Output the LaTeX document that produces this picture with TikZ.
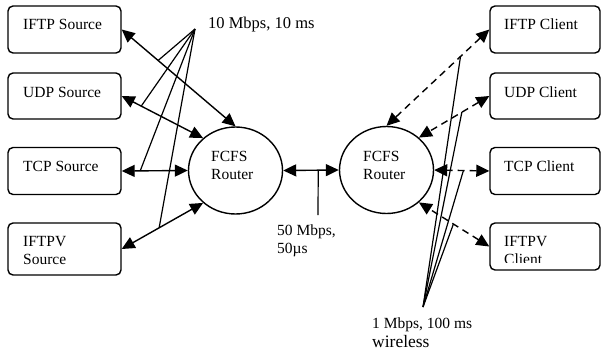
\documentclass[tikz,border=0pt]{standalone}
\usepackage{fontspec}
\setmainfont{Liberation Serif}
\usetikzlibrary{arrows.meta,shapes.geometric}
\begin{document}
\begin{tikzpicture}[x=1pt,y=-1pt,
  box/.style={draw,line width=1.4pt,rounded corners=5pt,inner sep=0pt,minimum width=113pt,minimum height=47pt},
  cbox/.style={box,minimum width=110pt},
  router/.style={draw,ellipse,line width=1.4pt,inner sep=0pt,minimum width=94pt,minimum height=87pt},
  txt/.style={anchor=base west,inner sep=0pt,font=\fontsize{15.5}{18}\selectfont},
  link/.style={line width=1.4pt,{Triangle[length=13pt,width=12pt]}-{Triangle[length=13pt,width=12pt]}},
  dlink/.style={link,dash pattern=on 7pt off 5pt},
  fan/.style={line width=1.2pt}]
\useasboundingbox (0,0) rectangle (601,356);

% source boxes
\node[box] (s1) at (64.5,29.5) {};
\node[box,minimum height=46pt] (s2) at (64.5,96) {};
\node[box] (s3) at (64.5,171) {};
\node[box,minimum height=52pt] (s4) at (64.5,249) {};
\node[txt] (ts1) at (23,29) {IFTP Source};
\node[txt] (ts2) at (23,97) {UDP Source};
\node[txt] (ts3) at (23,171) {TCP Source};
\node[txt] (ts4a) at (23,246) {IFTPV};
\node[txt] (ts4b) at (23,264) {Source};

% client boxes
\node[cbox] (c1) at (545,29.5) {};
\node[cbox,minimum height=46pt] (c2) at (545,96) {};
\node[cbox] (c3) at (545,171) {};
\node[cbox] (c4) at (545,246.5) {};
\node[txt] (tc1) at (504,29) {IFTP Client};
\node[txt] (tc2) at (504,97) {UDP Client};
\node[txt] (tc3) at (504,171) {TCP Client};
\node[txt] (tc4a) at (504,246) {IFTPV};
\begin{scope}
\clip (492,225) rectangle (598,262.5);
\node[txt] (tc4b) at (504,264) {Client};
\end{scope}

% routers
\node[router] (r1) at (235.5,170.5) {};
\node[router] (r2) at (386.5,170) {};
\node[txt] (tr1a) at (211,161) {FCFS};
\node[txt] (tr1b) at (211,179) {Router};
\node[txt] (tr2a) at (363,161) {FCFS};
\node[txt] (tr2b) at (363,179) {Router};

% left links
\draw[link] (s1.east) -- coordinate[pos=0.32] (f1) (r1.north);
\draw[link] (s2.east) -- coordinate[pos=0.24] (f2) (r1.135);
\draw[link] (s3.east) -- coordinate[pos=0.28] (f3) (r1.west);
\draw[link] (s4.east) -- coordinate[pos=0.46] (f4) (r1.225);

% right links
\draw[dlink] (c1.west) -- coordinate[pos=0.28] (g1) (r2.north);
\draw[dlink] (c2.west) -- coordinate[pos=0.39] (g2) (r2.45);
\draw[dlink] (c3.west) -- coordinate[pos=0.47] (g3) (r2.east);
\draw[dlink] (c4.west) -- coordinate[pos=0.51] (g4) (r2.315);

% router to router
\draw[link] (r1.east) -- coordinate[pos=0.63] (m) (r2.west);
\coordinate (mt) at (318,215);
\draw[fan] (m) -- (mt);
\node[txt] (l50a) at (277,235) {50 Mbps,};
\node[txt] (l50b) at (277,253) {50µs};

% left fan
\coordinate (la) at (195,29);
\foreach \p in {f1,f2,f3,f4} \draw[fan] (la) -- (\p);
\node[txt,font=\fontsize{16.5}{19}\selectfont] (l10) at (208,28) {10 Mbps, 10 ms};

% right fan
\coordinate (ra) at (423,307);
\foreach \p in {g1,g2,g3,g4} \draw[fan] (ra) -- (\p);
\node[txt] (l1) at (372,328) {1 Mbps, 100 ms};
\node[txt,font=\fontsize{17.5}{20}\selectfont] (lw) at (372,347) {wireless};
\end{tikzpicture}
\end{document}
